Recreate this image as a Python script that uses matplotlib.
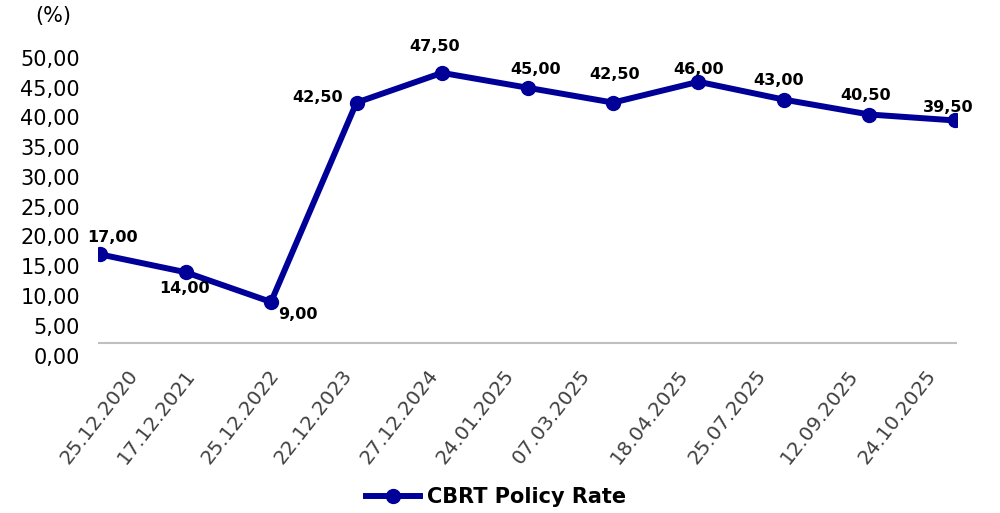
import matplotlib.pyplot as plt
import matplotlib.transforms as mtransforms
from matplotlib.ticker import FuncFormatter

# data
dates = ["25.12.2020", "17.12.2021", "25.12.2022", "22.12.2023", "27.12.2024",
         "24.01.2025", "07.03.2025", "18.04.2025", "25.07.2025", "12.09.2025",
         "24.10.2025"]
rates = [17.00, 14.00, 9.00, 42.50, 47.50, 45.00, 42.50, 46.00, 43.00, 40.50, 39.50]
series_name = "CBRT Policy Rate"

# label offsets in points (dx, dy) relative to each marker
label_offsets = [(9, 12), (-1, -12), (19, -9), (-28, 4), (-5, 19), (6, 13),
                 (1, 20), (0, 9), (-4, 14), (-3, 14), (-5, 9)]
# horizontal nudge of the date labels, in pixels
date_nudge = [34, 6, 4, -8, -8, -17, -26, -14, -22, -15, -23]

line_color = '#000099'

plt.rcParams['font.family'] = 'DejaVu Sans'
fig = plt.figure(figsize=(10, 5.13), dpi=100)
ax = fig.add_axes([0.098, 0.307, 0.859, 0.58])

x = list(range(len(dates)))
ax.plot(x, rates, color=line_color, linewidth=4.3, marker='o', markersize=10,
        label=series_name, zorder=3)

for xi, val, (dx, dy) in zip(x, rates, label_offsets):
    ax.annotate(f"{val:.2f}".replace('.', ','), (xi, val), xytext=(dx, dy),
                textcoords='offset points', ha='center', va='center',
                fontsize=11.5, fontweight='bold', color='black', annotation_clip=False)

# category axis line
ax.axhline(2.1, color='#BFBFBF', linewidth=1.5, zorder=1)

ax.set_xlim(-0.0234, len(dates) - 1 + 0.0234)
ax.set_ylim(0, 50)
ax.set_yticks(range(0, 51, 5))
ax.yaxis.set_major_formatter(FuncFormatter(lambda v, p: f"{v:.2f}".replace('.', ',')))
ax.tick_params(axis='y', length=0, labelsize=15, pad=13, labelcolor='black')

ax.set_xticks(x)
ax.set_xticklabels(dates, rotation=52, ha='right', va='center', rotation_mode='anchor',
                   fontsize=14.3, color='#404040')
ax.tick_params(axis='x', length=0, pad=12)
for lbl, nudge in zip(ax.get_xticklabels(), date_nudge):
    shift = mtransforms.ScaledTranslation(nudge / 100, 0, fig.dpi_scale_trans)
    lbl.set_transform(lbl.get_transform() + shift)

for s in ax.spines.values():
    s.set_visible(False)

fig.text(0.053, 0.968, "(%)", ha='center', va='center', fontsize=15)

fig.legend(loc='center', bbox_to_anchor=(0.496, 0.031), frameon=False,
           prop={'size': 15, 'weight': 'bold'}, handlelength=2.6, handletextpad=0.3)

plt.savefig('out.png', dpi=100)
